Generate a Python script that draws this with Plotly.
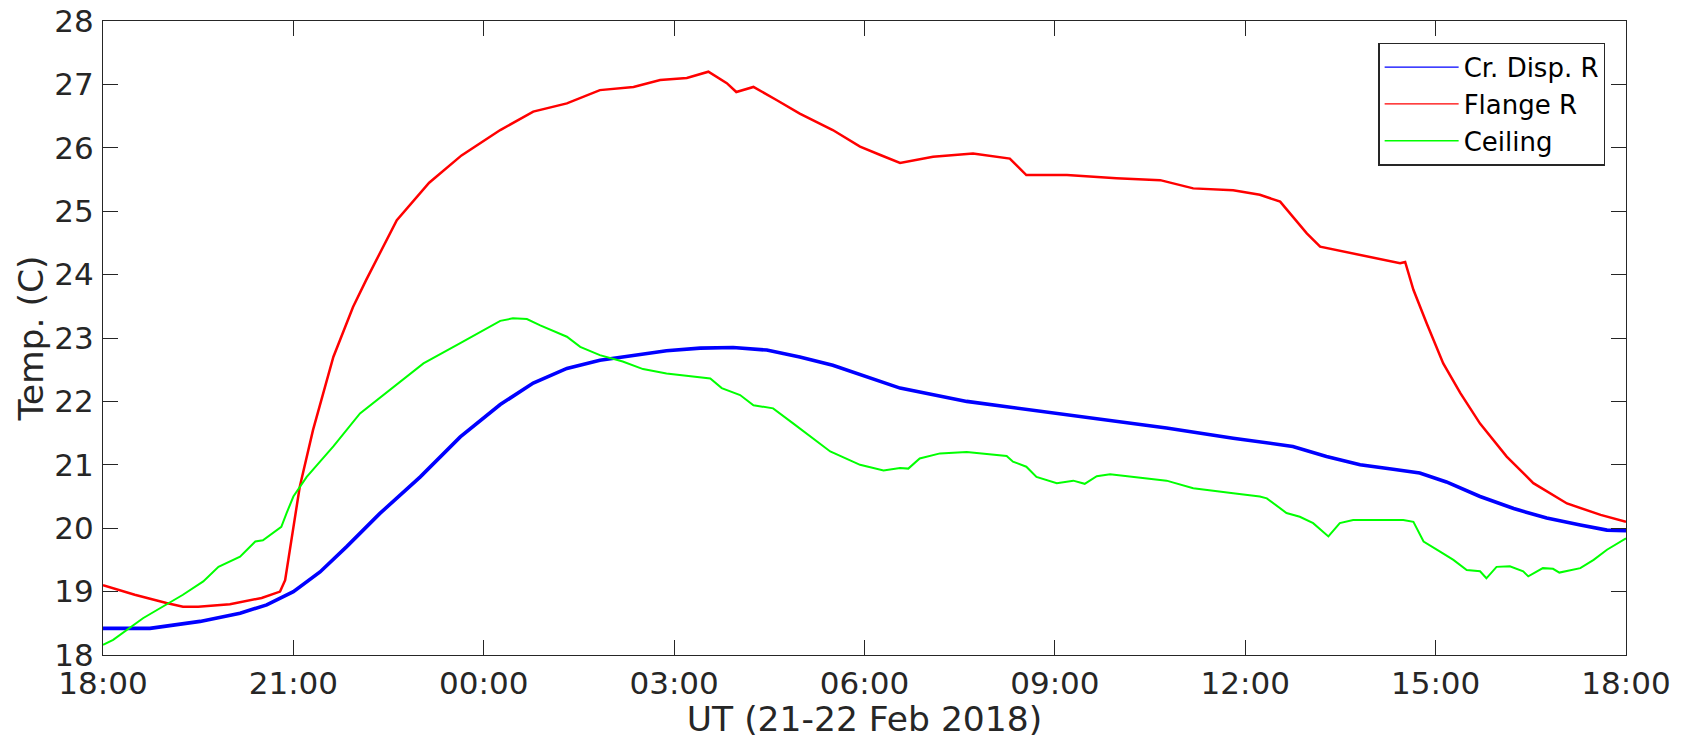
import pandas as pd
import plotly.graph_objects as go

# ---- data (hours after 2018-02-21 18:00 UT, temperature in C) ----
blue_hours = [0, 0.74, 1.53, 2.16, 2.58, 3.0, 3.42, 3.84, 4.36, 5.0, 5.63, 6.26, 6.78, 7.31, 7.83, 8.36,
              8.88, 9.41, 9.93, 10.46, 10.98, 11.5, 12.03, 12.56, 13.61, 14.66, 15.71, 16.76, 17.81, 18.23,
              18.75, 19.28, 19.81, 20.33, 20.75, 21.17, 21.7, 22.23, 22.75, 23.28, 23.7, 24.0]
blue_vals = [18.42, 18.42, 18.53, 18.66, 18.79, 19.0, 19.31, 19.71, 20.23, 20.81, 21.44, 21.95, 22.29, 22.52,
             22.65, 22.73, 22.80, 22.84, 22.85, 22.81, 22.70, 22.57, 22.39, 22.21, 22.0, 21.86, 21.71, 21.58,
             21.42, 21.36, 21.29, 21.13, 21.0, 20.93, 20.87, 20.73, 20.50, 20.31, 20.16, 20.05, 19.97, 19.96]

red_hours = [0.0, 0.5, 1.0, 1.26, 1.5, 2.0, 2.5, 2.79, 2.87, 3.1, 3.31, 3.63, 3.94, 4.15, 4.63, 5.14, 5.65,
             6.26, 6.78, 7.31, 7.83, 8.36, 8.78, 9.2, 9.54, 9.83, 9.98, 10.25, 10.62, 10.98, 11.5, 11.93,
             12.24, 12.56, 13.08, 13.71, 14.29, 14.55, 15.19, 15.97, 16.66, 17.18, 17.81, 18.23, 18.55,
             18.75, 18.97, 19.18, 19.81, 20.44, 20.52, 20.65, 20.86, 21.12, 21.39, 21.70, 22.12, 22.54,
             23.07, 23.60, 24.0]
red_vals = [19.10, 18.95, 18.82, 18.76, 18.76, 18.80, 18.90, 19.00, 19.18, 20.65, 21.55, 22.70, 23.49, 23.92,
            24.86, 25.45, 25.88, 26.28, 26.57, 26.70, 26.91, 26.96, 27.07, 27.10, 27.20, 27.02, 26.88, 26.96,
            26.75, 26.54, 26.28, 26.02, 25.89, 25.76, 25.86, 25.91, 25.83, 25.57, 25.57, 25.52, 25.49, 25.36,
            25.33, 25.26, 25.15, 24.91, 24.65, 24.44, 24.31, 24.18, 24.20, 23.76, 23.23, 22.60, 22.13, 21.65,
            21.13, 20.71, 20.39, 20.21, 20.10]

green_hours = [0, 0.16, 0.63, 1.26, 1.58, 1.82, 2.16, 2.4, 2.52, 2.81, 2.89, 3.0, 3.21, 3.63, 4.05, 4.52,
               5.05, 5.63, 6.26, 6.46, 6.68, 6.89, 7.31, 7.52, 7.83, 8.19, 8.51, 8.88, 9.57, 9.75, 10.04,
               10.25, 10.56, 10.88, 11.19, 11.46, 11.93, 12.3, 12.56, 12.69, 12.87, 13.19, 13.61, 14.24,
               14.34, 14.55, 14.71, 15.03, 15.29, 15.47, 15.66, 15.87, 16.76, 17.18, 17.81, 18.23, 18.34,
               18.65, 18.86, 19.07, 19.31, 19.49, 19.7, 20.49, 20.65, 20.81, 21.07, 21.28, 21.49, 21.7,
               21.8, 21.96, 22.17, 22.38, 22.46, 22.69, 22.85, 22.95, 23.28, 23.49, 23.7, 24.0]
green_vals = [18.16, 18.24, 18.58, 18.95, 19.16, 19.39, 19.55, 19.79, 19.81, 20.02, 20.23, 20.5, 20.81, 21.29,
              21.81, 22.18, 22.60, 22.92, 23.27, 23.31, 23.30, 23.20, 23.02, 22.86, 22.73, 22.63, 22.51,
              22.44, 22.36, 22.21, 22.10, 21.94, 21.89, 21.65, 21.42, 21.21, 21.0, 20.91, 20.95, 20.94,
              21.1, 21.18, 21.2, 21.14, 21.05, 20.97, 20.81, 20.71, 20.75, 20.70, 20.82, 20.85, 20.75,
              20.63, 20.55, 20.50, 20.47, 20.24, 20.18, 20.08, 19.87, 20.08, 20.13, 20.13, 20.10, 19.79,
              19.63, 19.5, 19.34, 19.32, 19.21, 19.39, 19.40, 19.32, 19.24, 19.37, 19.36, 19.30, 19.37,
              19.5, 19.66, 19.84]

series_names = ["Cr. Disp. R", "Flange R", "Ceiling"]
series_colors = ["#0000ff", "#ff0000", "#00ff00"]
start_time = "2018-02-21 18:00"
end_time = "2018-02-22 18:00"
tick_step_hours = 3

base = pd.Timestamp(start_time)


def to_time(hours):
    return base + pd.to_timedelta(hours, unit="h")


TXT = "#262626"
FONT = "DejaVu Sans"

fig = go.Figure()
data_sets = [(blue_hours, blue_vals, 3.6), (red_hours, red_vals, 2.5), (green_hours, green_vals, 2.0)]
for (hrs, vals, w), name, col in zip(data_sets, series_names, series_colors):
    fig.add_trace(go.Scatter(x=to_time(hrs), y=vals, mode="lines", name=name, legendgroup=name,
                             showlegend=False, line=dict(color=col, width=w)))
# thin legend samples, as in the reference legend
for name, col in zip(series_names, series_colors):
    fig.add_trace(go.Scatter(x=[None], y=[None], mode="lines", name=name, legendgroup=name,
                             showlegend=True, line=dict(color=col, width=1.3)))

axis_common = dict(
    showline=True, linecolor=TXT, linewidth=1.2, mirror="ticks",
    ticks="inside", ticklen=15, tickwidth=1.2, tickcolor=TXT,
    showgrid=False, zeroline=False, ticklabeloverflow="allow",
    tickfont=dict(family=FONT, size=31, color=TXT),
)

fig.update_xaxes(
    type="date", range=[start_time, end_time],
    dtick=tick_step_hours * 3600 * 1000, tick0=start_time, tickformat="%H:%M",
    title=dict(text="UT (21-22 Feb 2018)", font=dict(family=FONT, size=34.5, color=TXT), standoff=6),
    ticklabelstandoff=1,
    **axis_common,
)
fig.update_yaxes(
    range=[18, 28], dtick=1,
    title=dict(text="Temp. (C)", font=dict(family=FONT, size=34.5, color=TXT), standoff=0),
    ticklabelstandoff=2,
    **axis_common,
)

fig.update_layout(
    width=1683, height=739,
    margin=dict(l=103, r=57, t=21, b=84, autoexpand=False),
    paper_bgcolor="white", plot_bgcolor="white",
    font=dict(family=FONT, color=TXT),
    legend=dict(
        x=0.9865, y=0.966, xanchor="right", yanchor="top",
        bgcolor="white", bordercolor=TXT, borderwidth=1.2,
        font=dict(family=FONT, size=26, color="#000000"),
        tracegroupgap=0, itemwidth=74,
    ),
    showlegend=True,
)

# remove the default page margin so the 1683x739 figure fills the window exactly
fig.write_html(
    "out.html",
    config={"displayModeBar": False},
    post_script="document.body.style.margin='0';document.body.style.overflow='hidden';",
)
